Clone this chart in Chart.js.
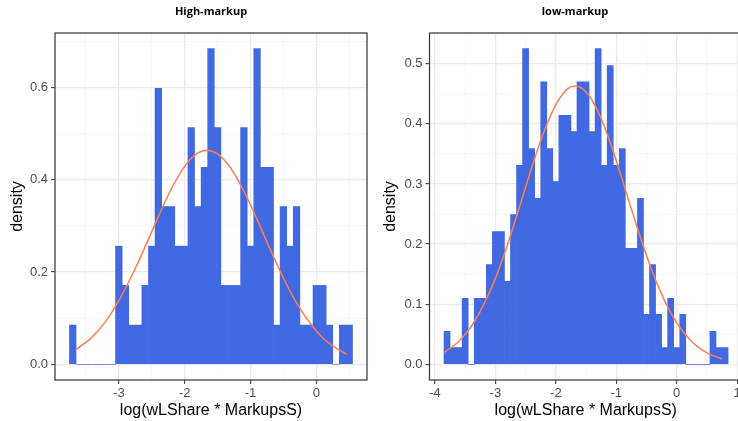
<!DOCTYPE html>
<html>
<head>
<meta charset="utf-8">
<script src="https://cdn.jsdelivr.net/npm/chart.js@4.4.1/dist/chart.umd.min.js"></script>
<style>
  html, body { margin: 0; padding: 0; background: #fff; overflow: hidden; }
  #wrap { position: relative; width: 738px; height: 421px; overflow: hidden; }
  canvas { position: absolute; top: 0; }
  .ttl { position: absolute; top: 3px; transform: translateX(-50%); white-space: nowrap;
         font: bold 11px 'Open Sans', sans-serif; color: #000; }
</style>
</head>
<body>
<div id="wrap">
  <canvas id="high" width="370" height="421" style="left:0"></canvas>
  <canvas id="low" width="374" height="421" style="left:370px"></canvas>
  <div class="ttl" style="left:211px">High-markup</div>
  <div class="ttl" style="left:575px">low-markup</div>
</div>
<script>
// High-markup: histogram bin centres and densities (binwidth 0.1)
const highBins = [-3.7, -3.6, -3.5, -3.4, -3.3, -3.2, -3.1, -3.0, -2.9, -2.8, -2.7, -2.6, -2.5, -2.4, -2.3,
  -2.2, -2.1, -2.0, -1.9, -1.8, -1.7, -1.6, -1.5, -1.4, -1.3, -1.2, -1.1, -1.0, -0.9, -0.8, -0.7, -0.6,
  -0.5, -0.4, -0.3, -0.2, -0.1, 0.0, 0.1, 0.2, 0.3, 0.4, 0.5];
const highDensity = [0.085, 0, 0, 0, 0, 0, 0, 0.256, 0.171, 0.085, 0.085, 0.171, 0.256, 0.598, 0.342,
  0.342, 0.256, 0.256, 0.513, 0.342, 0.427, 0.684, 0.513, 0.171, 0.171, 0.171, 0.513, 0.256, 0.684, 0.427,
  0.427, 0.085, 0.342, 0.256, 0.342, 0.085, 0.085, 0.171, 0.171, 0.085, 0, 0.085, 0.085];
// fitted normal curve
const highCurveX = [-3.66, -3.4, -3.2, -3.0, -2.8, -2.6, -2.4, -2.2, -2.0, -1.8, -1.66, -1.5, -1.3, -1.1,
  -0.9, -0.7, -0.5, -0.3, -0.1, 0.1, 0.3, 0.46];
const highCurveY = [0.031, 0.060, 0.093, 0.138, 0.193, 0.255, 0.320, 0.381, 0.429, 0.458, 0.464, 0.456,
  0.425, 0.375, 0.314, 0.249, 0.187, 0.133, 0.090, 0.057, 0.035, 0.022];

// low-markup
const lowBins = [-3.8, -3.7, -3.6, -3.5, -3.4, -3.3, -3.2, -3.1, -3.0, -2.9, -2.8, -2.7, -2.6, -2.5, -2.4,
  -2.3, -2.2, -2.1, -2.0, -1.9, -1.8, -1.7, -1.6, -1.5, -1.4, -1.3, -1.2, -1.1, -1.0, -0.9, -0.8, -0.7,
  -0.6, -0.5, -0.4, -0.3, -0.2, -0.1, 0.0, 0.1, 0.2, 0.3, 0.4, 0.5, 0.6, 0.7, 0.8];
const lowDensity = [0.055, 0.028, 0.028, 0.110, 0, 0.110, 0.110, 0.166, 0.221, 0.221, 0.138, 0.249, 0.331,
  0.525, 0.359, 0.276, 0.470, 0.359, 0.304, 0.414, 0.414, 0.387, 0.470, 0.470, 0.387, 0.525, 0.331, 0.497,
  0.331, 0.359, 0.193, 0.193, 0.276, 0.083, 0.166, 0.083, 0.028, 0.110, 0.028, 0.083, 0, 0, 0, 0, 0.055,
  0.028, 0.028];
const lowCurveX = [-3.84, -3.6, -3.4, -3.2, -3.0, -2.8, -2.6, -2.4, -2.2, -2.0, -1.8, -1.68, -1.5, -1.3,
  -1.1, -0.9, -0.7, -0.5, -0.3, -0.1, 0.1, 0.3, 0.5, 0.75];
const lowCurveY = [0.020, 0.039, 0.063, 0.098, 0.143, 0.199, 0.262, 0.327, 0.386, 0.432, 0.459, 0.463,
  0.453, 0.420, 0.369, 0.307, 0.242, 0.181, 0.128, 0.086, 0.055, 0.033, 0.019, 0.009];

const xTitle = 'log(wLShare * MarkupsS)';
const yTitle = 'density';

function isMajor(v, step) {
  const r = v / step;
  return Math.abs(r - Math.round(r)) < 1e-6;
}

// ggplot draws the panel border all the way round
const panelBorder = {
  id: 'panelBorder',
  afterDraw(chart) {
    const a = chart.chartArea, ctx = chart.ctx;
    ctx.save();
    ctx.strokeStyle = '#333333';
    ctx.lineWidth = 1.2;
    ctx.strokeRect(a.left, a.top, a.right - a.left, a.bottom - a.top);
    ctx.restore();
  }
};

function axisGrid(major) {
  return {
    offset: false,
    color: c => (c.tick && isMajor(c.tick.value, major)) ? '#EBEBEB' : '#F4F4F4',
    lineWidth: c => (c.tick && isMajor(c.tick.value, major)) ? 1.3 : 0.7,
    tickColor: c => (c.tick && isMajor(c.tick.value, major)) ? '#333333' : 'rgba(0,0,0,0)',
    tickLength: 4,
    tickWidth: 1
  };
}

const tickFont = { family: 'Liberation Sans', size: 13 };
const titleFont = { family: 'Liberation Sans', size: 16 };

function makePanel(id, bins, density, curveX, curveY, p) {
  const ctx = document.getElementById(id).getContext('2d');
  return new Chart(ctx, {
    type: 'bar',
    data: {
      datasets: [{
        type: 'line',
        data: curveX.map((x, i) => ({ x: x, y: curveY[i] })),
        borderColor: '#FF7F50',
        borderWidth: 1.5,
        pointRadius: 0,
        cubicInterpolationMode: 'monotone',
        order: 0
      }, {
        type: 'bar',
        data: bins.map((x, i) => ({ x: x, y: density[i] })),
        backgroundColor: '#4169E1',
        borderWidth: 0,
        barPercentage: 1,
        categoryPercentage: 1,
        order: 1
      }]
    },
    options: {
      responsive: false,
      animation: false,
      layout: { padding: { top: 33, right: p.padRight, bottom: 0, left: 0 } },
      plugins: { legend: { display: false }, tooltip: { enabled: false } },
      scales: {
        x: {
          type: 'linear',
          offset: false,
          min: p.xMin, max: p.xMax,
          border: { display: false },
          grid: axisGrid(1),
          ticks: {
            stepSize: 0.5, autoSkip: false, maxRotation: 0, includeBounds: false, maxTicksLimit: 100,
            color: '#4D4D4D', font: tickFont, padding: 2,
            callback: v => isMajor(v, 1) ? String(Math.round(v)) : ''
          },
          title: { display: true, text: xTitle, color: '#000', font: titleFont, padding: { top: 0, bottom: 1 } },
          afterFit: s => { s.height = 41; }
        },
        y: {
          type: 'linear',
          min: p.yMin, max: p.yMax,
          border: { display: false },
          grid: axisGrid(p.yMajor),
          ticks: {
            stepSize: p.yMajor / 2, includeBounds: false, maxTicksLimit: 100, autoSkip: false,
            color: '#4D4D4D', font: tickFont, padding: 3,
            callback: v => isMajor(v, p.yMajor) ? v.toFixed(1) : ''
          },
          title: { display: true, text: yTitle, color: '#000', font: titleFont, padding: { top: p.yTitlePad, bottom: 0 } },
          afterFit: s => { s.width = p.yWidth; }
        }
      }
    },
    plugins: [panelBorder]
  });
}

makePanel('high', highBins, highDensity, highCurveX, highCurveY,
  { xMin: -3.97, xMax: 0.77, yMin: -0.034, yMax: 0.718, yMajor: 0.2, yWidth: 55, padRight: 3, yTitlePad: 7.5 });
makePanel('low', lowBins, lowDensity, lowCurveX, lowCurveY,
  { xMin: -4.09, xMax: 1.08, yMin: -0.026, yMax: 0.551, yMajor: 0.1, yWidth: 59.5, padRight: 2, yTitlePad: 11 });
</script>
</body>
</html>
